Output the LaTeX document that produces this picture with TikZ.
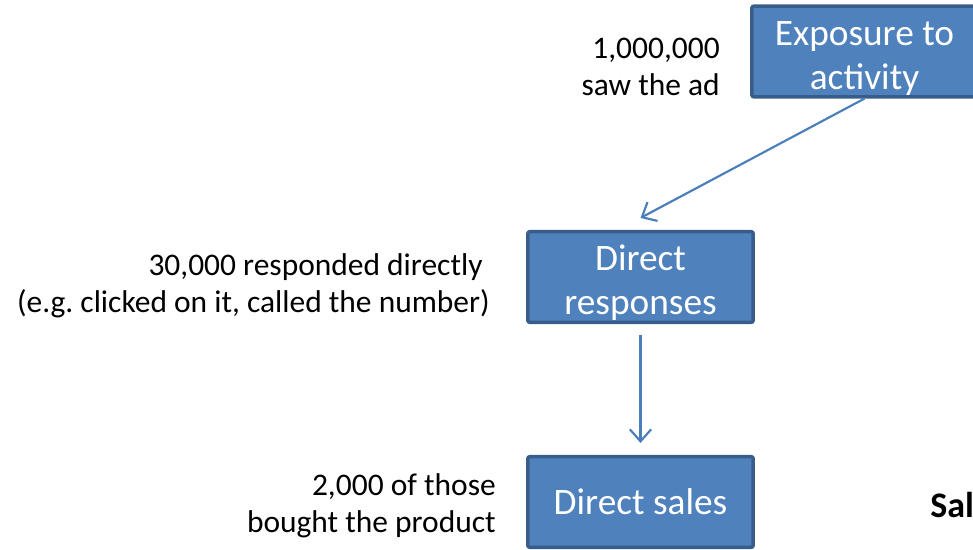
\documentclass[tikz,border=0pt]{standalone}
\usepackage{fontspec}
\setmainfont{Carlito}
\usetikzlibrary{arrows.meta}
\definecolor{boxfill}{HTML}{4F81BD}
\definecolor{boxborder}{HTML}{385D8A}
\definecolor{arrowcol}{HTML}{4A7EBB}
\newcommand{\pushdown}{\rule{0pt}{28pt}}
\tikzset{
  flowbox/.style={draw=boxborder, fill=boxfill, line width=2.6pt, rounded corners=1.5pt,
    minimum width=169pt, minimum height=68pt, inner sep=0pt, text=white, align=center,
    font=\fontsize{28pt}{33pt}\selectfont},
  sidetext/.style={anchor=east, align=right, inner sep=0pt, text=black,
    font=\frenchspacing\fontsize{23.6pt}{27.5pt}\selectfont},
  flowarrow/.style={draw=arrowcol, line width=1.6pt, -{Straight Barb[length=9pt,width=16pt]}}
}
\begin{document}
\begin{tikzpicture}[x=0.75pt, y=-0.75pt]
\useasboundingbox (0,0) rectangle (973,549);
\clip (0,0) rectangle (973,549);
\node[flowbox] (ex) at (864.5,51.5) {\pushdown Exposure to\\activity};
\node[flowbox] (dr) at (640.5,277) {\pushdown Direct\\responses};
\node[flowbox] (ds) at (640.5,502) {Direct sales};
\node[sidetext] (t1) at (720,67) {1,000,000\\saw the ad};
\node[sidetext] (t2) at (490,286) {30,000 responded directly\kern0.23em\\(e.g. clicked on it, called the number)};
\node[sidetext] (t3) at (496,506) {2,000 of those\\bought the product};
\node[anchor=base west, inner sep=0pt, font=\fontsize{27pt}{33pt}\selectfont\bfseries] (sal) at (930,517) {Sal};
\draw[flowarrow] (ex.south) -- ([yshift=9pt]dr.north);
\draw[flowarrow] ([yshift=-8pt]dr.south) -- ([yshift=9pt]ds.north);
\end{tikzpicture}
\end{document}
